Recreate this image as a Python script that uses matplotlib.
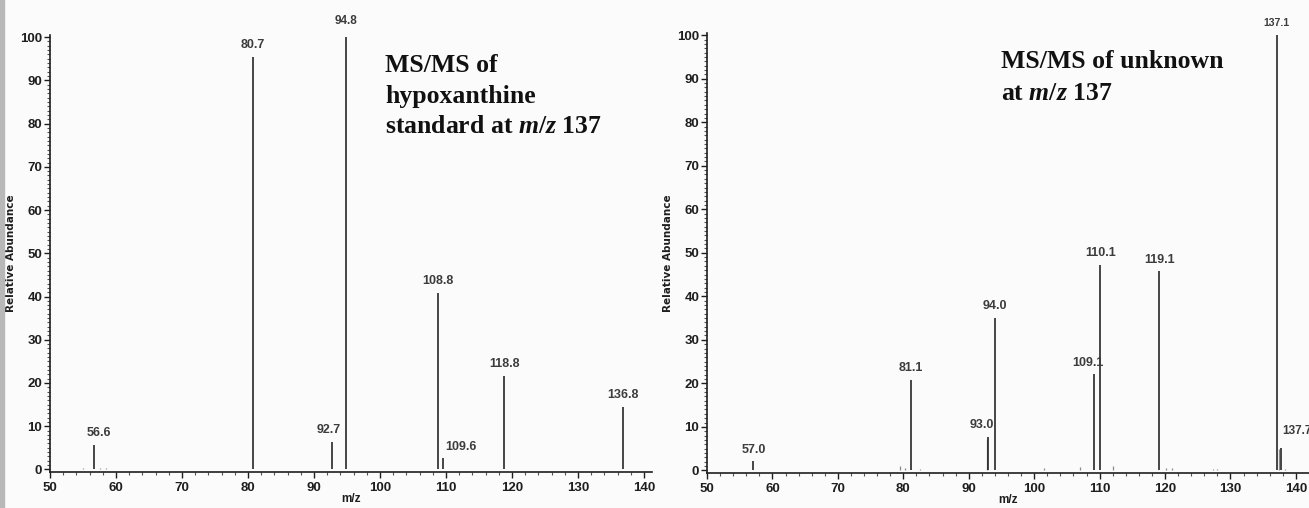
import matplotlib
matplotlib.use("Agg")
import matplotlib.pyplot as plt
from matplotlib.ticker import MultipleLocator

plt.rcParams["mathtext.fontset"] = "custom"
plt.rcParams["mathtext.rm"] = "Liberation Serif:bold"
plt.rcParams["mathtext.bf"] = "Liberation Serif:bold"
plt.rcParams["mathtext.it"] = "Liberation Serif:italic:bold"
plt.rcParams["mathtext.bfit"] = "Liberation Serif:italic:bold"

# Hypoxanthine standard, MS/MS of m/z 137
std_mz = [56.6, 80.7, 92.7, 94.8, 108.8, 109.6, 118.8, 136.8]
std_int = [5.7, 95.5, 6.4, 100.0, 40.9, 2.6, 21.7, 14.5]
std_labels = ["56.6", "80.7", "92.7", "94.8", "108.8", "109.6", "118.8", "136.8"]
std_minor_mz = [55.0, 57.5, 58.5, 70.5, 71.5, 84.0]
std_minor_int = [0.3, 0.4, 0.3, 0.2, 0.2, 0.2]

# Unknown, MS/MS of m/z 137
unk_mz = [57.0, 81.1, 93.0, 94.0, 109.1, 110.1, 119.1, 137.1, 137.7]
unk_int = [2.1, 20.8, 7.7, 35.1, 22.1, 47.2, 45.7, 100.0, 5.1]
unk_labels = ["57.0", "81.1", "93.0", "94.0", "109.1", "110.1", "119.1", "137.1", "137.7"]
unk_minor_mz = [79.5, 80.2, 82.6, 92.8, 101.5, 107.0, 112.0, 120.2, 121.0, 127.3, 128.0, 137.4, 138.3]
unk_minor_int = [1.0, 0.6, 0.4, 7.2, 0.6, 0.7, 0.9, 0.6, 0.5, 0.4, 0.4, 5.0, 0.4]

std_title = ["MS/MS of", "hypoxanthine", r"standard at $\mathit{m/z}$ 137"]
unk_title = ["MS/MS of unknown", r"at $\mathit{m/z}$ 137"]

TICK_FONT = ["Liberation Sans Narrow", "Liberation Sans", "DejaVu Sans"]
TITLE_FONT = ["Liberation Serif", "DejaVu Serif"]
INK = "#1e1e1e"
LABEL_INK = "#3c3c3c"
W, H = 1309, 508

fig = plt.figure(figsize=(W / 100, H / 100), dpi=100, facecolor="#fbfbfb")
# thin grey strip along the left edge
fig.patches.append(plt.Rectangle((0, 0), 4 / W, 1, transform=fig.transFigure,
                                 color="#b8b8b8", zorder=0))


def spectrum(ax, mz, inten, labels, minor_mz, minor_int, xlim, label_style):
    ax.set_facecolor("none")
    ax.vlines(minor_mz, 0, minor_int, color="#8a8a8a", lw=0.9)
    ax.vlines(mz, 0, inten, color=INK, lw=1.15)
    for m, h, t in zip(mz, inten, labels):
        dx, dy, fs, ha = label_style.get(t, (0, 4, 9, "center"))
        ax.annotate(t, (m, h), xytext=(dx, dy), textcoords="offset points",
                    ha=ha, va="bottom", fontsize=fs, fontweight="bold",
                    family=TICK_FONT, color=LABEL_INK, annotation_clip=False)
    ax.set_xlim(*xlim)
    ax.set_ylim(-0.6, 100.5)
    ax.xaxis.set_major_locator(MultipleLocator(10))
    ax.xaxis.set_minor_locator(MultipleLocator(2))
    ax.yaxis.set_major_locator(MultipleLocator(10))
    ax.yaxis.set_minor_locator(MultipleLocator(1))
    for side in ("top", "right"):
        ax.spines[side].set_visible(False)
    for side in ("left", "bottom"):
        ax.spines[side].set_color(INK)
        ax.spines[side].set_linewidth(1.2)
    ax.tick_params(which="major", length=4, width=1.0, color=INK,
                   labelsize=9.5, labelcolor=INK)
    ax.tick_params(axis="x", which="major", pad=3.5)
    ax.tick_params(axis="y", which="major", pad=1.5)
    ax.tick_params(which="minor", length=2.5, width=0.8, color="#555555")
    for lab in ax.get_xticklabels() + ax.get_yticklabels():
        lab.set_family(TICK_FONT)
        lab.set_fontweight("bold")
    ax.set_xlabel("m/z", fontsize=8.5, fontweight="bold", family=TICK_FONT,
                  color=INK, labelpad=-1)
    ax.set_ylabel("Relative Abundance", fontsize=7.5, fontweight="bold",
                  family=["DejaVu Sans"], color=INK, labelpad=3)


def title(lines, x_px, baselines_px):
    for line, y_px in zip(lines, baselines_px):
        fig.text(x_px / W, 1 - y_px / H, line, ha="left", va="baseline",
                 fontsize=18.5, fontweight="bold", family=TITLE_FONT,
                 color="#111111")


ax1 = fig.add_axes([50 / W, (H - 472) / H, 602 / W, 437 / H])
spectrum(ax1, std_mz, std_int, std_labels, std_minor_mz, std_minor_int,
         (50, 141.2),
         {"56.6": (4, 4, 9, "center"), "92.7": (-2, 4, 9, "center"),
          "109.6": (1, 4, 9, "left"), "94.8": (0, 7, 8.5, "center")})
title(std_title, 385, [72, 103, 133])

ax2 = fig.add_axes([707 / W, (H - 473) / H, 602 / W, 440 / H])
spectrum(ax2, unk_mz, unk_int, unk_labels, unk_minor_mz, unk_minor_int,
         (50, 142.0),
         {"57.0": (1, 4, 9, "center"), "93.0": (-5, 4, 9, "center"),
          "109.1": (-4, 4, 9, "center"), "137.7": (1, 8, 8.5, "left"),
          "137.1": (0, 5, 7.5, "center")})
title(unk_title, 1001, [68, 100])

fig.savefig("out.png", dpi=100, facecolor=fig.get_facecolor())
